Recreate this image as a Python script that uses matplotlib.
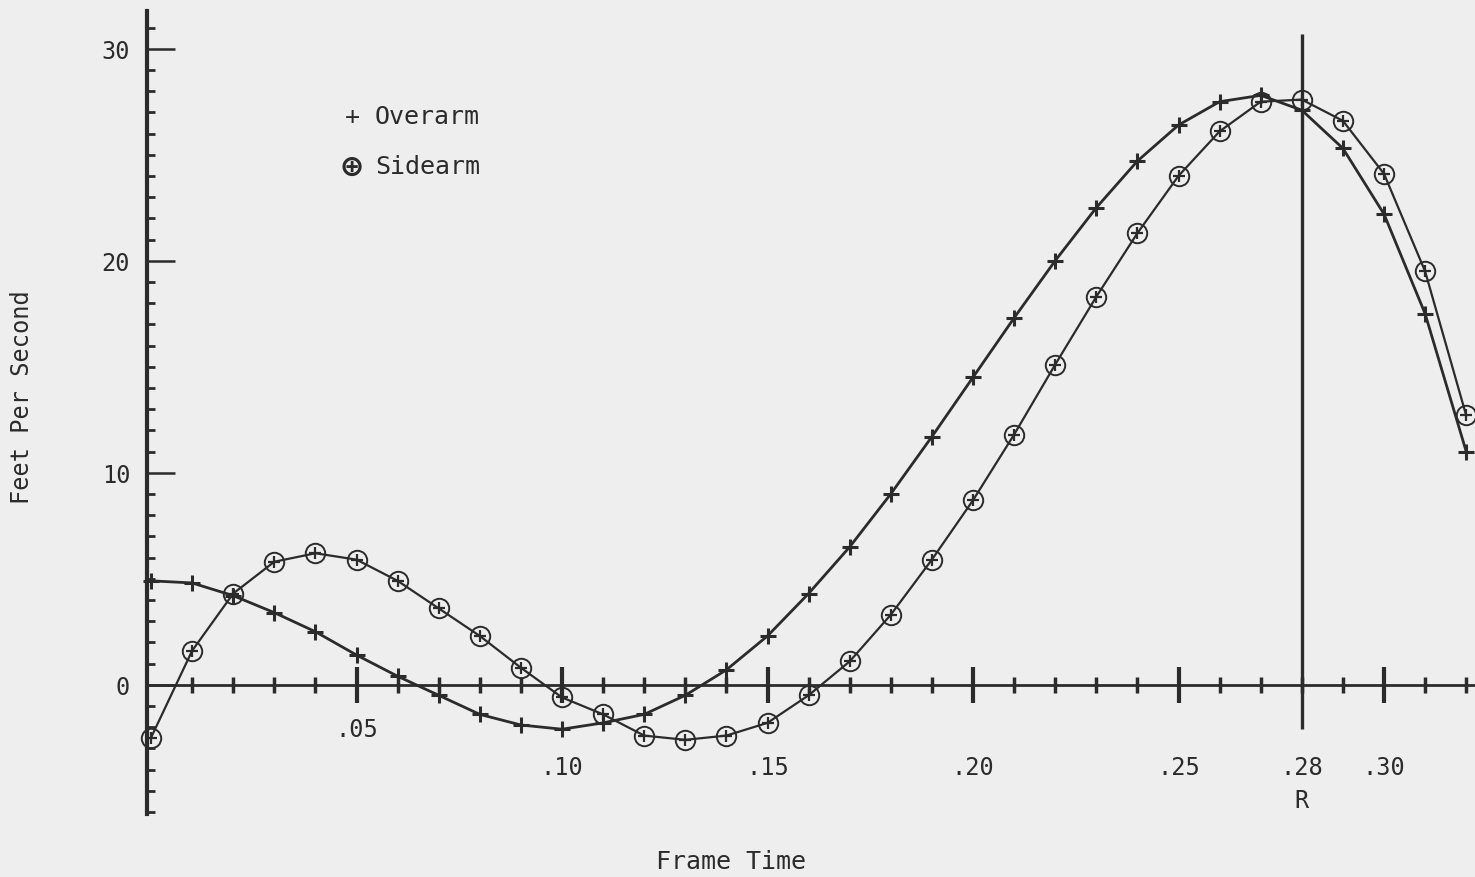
import numpy as np
import matplotlib
matplotlib.use("Agg")
import matplotlib.pyplot as plt
from matplotlib.ticker import FixedLocator

# Frame times (s) and speeds (ft/s) for the two throwing styles
frame_time = [0.00, 0.01, 0.02, 0.03, 0.04, 0.05, 0.06, 0.07, 0.08, 0.09,
              0.10, 0.11, 0.12, 0.13, 0.14, 0.15, 0.16, 0.17, 0.18, 0.19,
              0.20, 0.21, 0.22, 0.23, 0.24, 0.25, 0.26, 0.27, 0.28, 0.29,
              0.30, 0.31, 0.32]
overarm = [4.9, 4.8, 4.2, 3.4, 2.5, 1.4, 0.4, -0.5, -1.4, -1.9,
           -2.1, -1.8, -1.4, -0.5, 0.7, 2.3, 4.3, 6.5, 9.0, 11.7,
           14.5, 17.3, 20.0, 22.5, 24.7, 26.4, 27.5, 27.8, 27.1, 25.3,
           22.2, 17.5, 11.0]
sidearm = [-2.5, 1.6, 4.3, 5.8, 6.2, 5.9, 4.9, 3.6, 2.3, 0.8,
           -0.6, -1.4, -2.4, -2.6, -2.4, -1.8, -0.5, 1.1, 3.3, 5.9,
           8.7, 11.8, 15.1, 18.3, 21.3, 24.0, 26.1, 27.5, 27.6, 26.6,
           24.1, 19.5, 12.7]

x_major = [0.05, 0.10, 0.15, 0.20, 0.25, 0.30]
x_major_labels = [".05", ".10", ".15", ".20", ".25", ".30"]
y_major = [0, 10, 20, 30]
release_time = 0.28

INK = "#2b2b2b"
PAPER = "#eeeeee"
MONO = ["DejaVu Sans Mono", "DejaVu Sans"]

W, H = 1475, 878
X0_PX, X_PX_PER = 151.0, 4110.0     # pixel of t=0, pixels per second
Y0_PX, Y_PX_PER = 685.7, 21.2       # pixel row of 0 ft/s, pixels per ft/s

fig = plt.figure(figsize=(W / 100, H / 100), dpi=100, facecolor=PAPER)
ax = fig.add_axes([0, 0, 1, 1])
ax.set_facecolor(PAPER)
ax.set_xlim(-X0_PX / X_PX_PER, (W - X0_PX) / X_PX_PER)
ax.set_ylim(-(H - Y0_PX) / Y_PX_PER, Y0_PX / Y_PX_PER)

# axes drawn through the origin, typewriter-graph style
for side in ("top", "right"):
    ax.spines[side].set_visible(False)
ax.spines["left"].set_position(("data", -0.001))
ax.spines["bottom"].set_position(("data", 0))
ax.spines["left"].set_bounds(-6.1, 31.8)
ax.spines["bottom"].set_bounds(-0.001, ax.get_xlim()[1])
ax.spines["left"].set_linewidth(3.0)
ax.spines["bottom"].set_linewidth(2.0)
for s in ("left", "bottom"):
    ax.spines[s].set_color(INK)

ax.xaxis.set_major_locator(FixedLocator(x_major))
ax.xaxis.set_minor_locator(FixedLocator(np.round(np.arange(1, 33) * 0.01, 2)))
ax.yaxis.set_major_locator(FixedLocator(y_major))
ax.yaxis.set_minor_locator(FixedLocator(np.arange(-6, 32)))
ax.tick_params(axis="x", which="major", direction="inout", length=26,
               width=3.0, color=INK, labelbottom=False)
ax.tick_params(axis="x", which="minor", direction="inout", length=11,
               width=2.5, color=INK)
ax.tick_params(axis="y", which="major", direction="in", length=20,
               width=1.8, color=INK, pad=12, labelsize=17, labelcolor=INK)
ax.tick_params(axis="y", which="minor", direction="in", length=6,
               width=2.0, color=INK)
for lbl in ax.get_yticklabels():
    lbl.set_family(MONO)

# x labels hang below the axis; ".05" sits closer than the rest
for t, s in zip(x_major, x_major_labels):
    ty = -2.1 if t == 0.05 else -3.9
    ax.text(t, ty, s, ha="center", va="center", fontsize=17,
            family=MONO, color=INK)
ax.text(release_time, -3.9, ".28", ha="center", va="center", fontsize=17,
        family=MONO, color=INK)
ax.text(release_time, -5.45, "R", ha="center", va="center", fontsize=17,
        family=MONO, color=INK)

# release marker
ax.vlines(release_time, -2.1, 30.7, color=INK, lw=2.4, zorder=3)

# data curves
ax.plot(frame_time, overarm, color=INK, lw=2.0, marker="+",
        markersize=11, mew=2.2, zorder=4, clip_on=False)
ax.plot(frame_time, sidearm, color=INK, lw=1.6, marker="o",
        markersize=14, mfc="none", mew=1.4, zorder=4, clip_on=False)
ax.plot(frame_time, sidearm, ls="none", color=INK, marker="+",
        markersize=9, mew=1.6, zorder=5, clip_on=False)


def fig_xy(px, py):
    return px / W, 1 - py / H


# key
fig.text(*fig_xy(352, 117), "+", fontsize=18, family=MONO,
         color=INK, va="center", ha="center")
fig.text(*fig_xy(352, 167), "\u2295", fontsize=24, family=MONO,
         weight="bold", color=INK, va="center", ha="center")
fig.text(*fig_xy(375, 117), "Overarm", fontsize=18, family=MONO,
         color=INK, va="center", ha="left")
fig.text(*fig_xy(375, 167), "Sidearm", fontsize=18, family=MONO,
         color=INK, va="center", ha="left")

fig.text(*fig_xy(731, 862), "Frame Time", fontsize=18, family=MONO,
         color=INK, va="center", ha="center")
fig.text(*fig_xy(22, 397), "Feet Per Second", fontsize=17, family=MONO,
         color=INK, va="center", ha="center", rotation=90)

fig.savefig("out.png", dpi=100, facecolor=PAPER)
